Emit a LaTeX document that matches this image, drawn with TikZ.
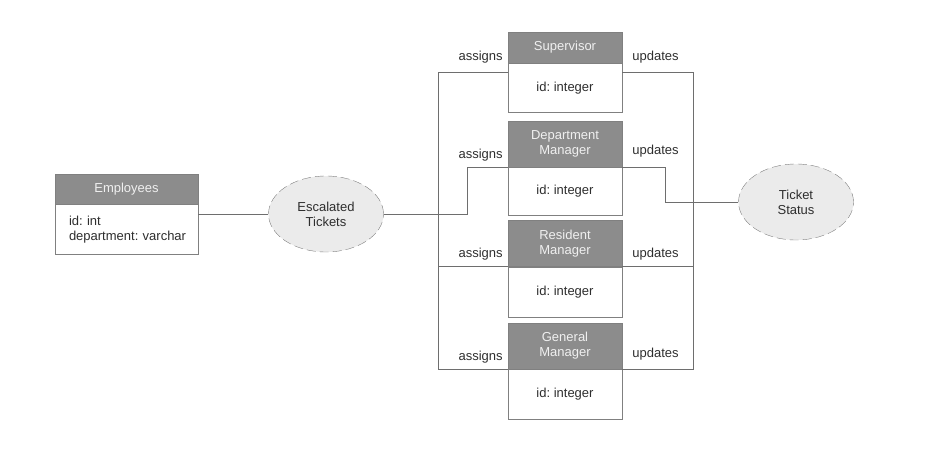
\documentclass[tikz,border=0pt]{standalone}
\usepackage{fontspec}
\setmainfont{Liberation Sans}
\usetikzlibrary{positioning,shapes.geometric}
\definecolor{headgray}{HTML}{8C8C8C}
\definecolor{edgegray}{HTML}{808080}
\definecolor{linegray}{HTML}{6E6E6E}
\definecolor{bubble}{HTML}{EBEBEB}
\definecolor{ink}{HTML}{2E2E2E}
\tikzset{
  entityhead/.style={
      rectangle,
      inner sep=0pt,
      minimum width=114pt,
      minimum height=46pt,
      align=center,
      draw=edgegray,
      fill=headgray,
      text=white!94!black
  },
  entitybody/.style={
      rectangle,
      inner sep=0pt,
      minimum width=114pt,
      minimum height=48pt,
      draw=edgegray,
      fill=white,
      text=ink
  },
  relation/.style={
      ellipse,
      inner sep=0pt,
      minimum width=115pt,
      minimum height=76pt,
      align=center,
      draw=gray,
      dash pattern=on 9pt off 4pt,
      fill=bubble,
      text=ink
  },
  link/.style={draw=linegray, line width=0.8pt},
  role/.style={text=ink, inner sep=0pt}
}
\frenchspacing

\begin{document}
\begin{tikzpicture}[x=1pt,y=-1pt,font=\fontsize{13}{15}\selectfont]
    \useasboundingbox (0,0) rectangle (928,449);
    % entities
    \node[entityhead, minimum width=143pt, minimum height=30pt] (emphead) at (126.5,189) {Employees};
    \node[entitybody, minimum width=143pt, minimum height=50pt, text width=115pt, align=left, inner xsep=14pt, below=0pt of emphead] (emp) {id: int\\\mbox{department: varchar}};
    \node[entityhead, minimum height=31pt] (suphead) at (565,47.5) {Supervisor};
    \node[entitybody, minimum height=49pt, below=0pt of suphead] (sup) {id: integer};
    \node[entityhead] (dephead) at (565,144) {Department\\Manager};
    \node[entitybody, below=0pt of dephead] (dep) {id: integer};
    \node[entityhead] (reshead) at (565,243.5) {Resident\\Manager};
    \node[entitybody, minimum height=50pt, below=0pt of reshead] (res) {id: integer};
    \node[entityhead] (genhead) at (565,346) {General\\Manager};
    \node[entitybody, minimum height=50pt, below=0pt of genhead] (gen) {id: integer};
    % relations
    \node[relation] (esc) at (326,214) {Escalated\\Tickets};
    \node[relation] (status) at (796,202) {Ticket\\Status};
    % trunks
    \coordinate (lt) at (438,0);
    \coordinate (rt) at (693,0);
    \coordinate (dl) at (467,0);
    \coordinate (dr) at (665,0);
    \coordinate (supin) at ([yshift=-9pt]suphead.south west);
    \coordinate (supout) at ([yshift=-9pt]suphead.south east);
    \draw[link] (emp.east |- esc.west) -- (esc.west);
    \draw[link] (esc.east) -| (lt |- supin) -- (supin);
    \draw[link] (esc.east) -- (dl |- esc.east) |- (dephead.south west);
    \draw[link] (esc.east) -| (lt |- reshead.south west) -- (reshead.south west);
    \draw[link] (esc.east) -| (lt |- genhead.south west) -- (genhead.south west);
    \draw[link] (supout) -| (rt |- status.west) -- (status.west);
    \draw[link] (dephead.south east) -- (dr |- dephead.south east) |- (status.west);
    \draw[link] (reshead.south east) -| (rt |- status.west) -- (status.west);
    \draw[link] (genhead.south east) -| (rt |- status.west) -- (status.west);
    % labels
    \node[role, anchor=east] (supa) at ([xshift=-5pt,yshift=15pt]supin) {assigns};
    \node[role, anchor=west] (supu) at ([xshift=10pt,yshift=15pt]supout) {updates};
    \node[role, anchor=east] (depa) at ([xshift=-5pt,yshift=12pt]dephead.south west) {assigns};
    \node[role, anchor=west] (depu) at ([xshift=10pt,yshift=16pt]dephead.south east) {updates};
    \node[role, anchor=east] (resa) at ([xshift=-5pt,yshift=13pt]reshead.south west) {assigns};
    \node[role, anchor=west] (resu) at ([xshift=10pt,yshift=13pt]reshead.south east) {updates};
    \node[role, anchor=east] (gena) at ([xshift=-5pt,yshift=12pt]genhead.south west) {assigns};
    \node[role, anchor=west] (genu) at ([xshift=10pt,yshift=15pt]genhead.south east) {updates};
\end{tikzpicture}
\end{document}
